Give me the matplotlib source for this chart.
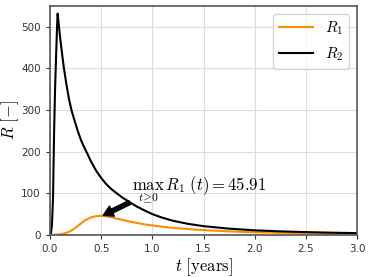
import matplotlib
matplotlib.use("Agg")
import matplotlib.pyplot as plt

plt.rcParams['mathtext.fontset'] = 'cm'

# Data
t_R2 = [0, 0.01, 0.02, 0.03, 0.04, 0.05, 0.06, 0.07, 0.075, 0.085, 0.1, 0.12,
        0.137, 0.16, 0.185, 0.21, 0.24, 0.27, 0.3, 0.33, 0.36, 0.4, 0.45, 0.5,
        0.55, 0.6, 0.7, 0.77, 0.85, 0.93, 1.0, 1.09, 1.2, 1.35, 1.5, 1.75,
        2.0, 2.25, 2.5, 2.75, 3.0]
R2 = [0, 5, 25, 90, 240, 350, 430, 505, 532, 508, 473, 432,
      400, 363, 328, 300, 275, 251, 230, 213, 198, 177, 155, 137,
      122, 110, 91, 80, 68, 58, 50, 42, 34, 26.5, 21, 15,
      11, 8.5, 6.7, 5.3, 4.3]

t_R1 = [0, 0.05, 0.1, 0.15, 0.2, 0.25, 0.3, 0.35, 0.4, 0.45, 0.5, 0.55, 0.6,
        0.65, 0.7, 0.8, 0.93, 1.05, 1.2, 1.35, 1.5, 1.75, 2.0, 2.5, 3.0]
R1 = [0, 0.3, 1.5, 4, 9, 17, 27, 36, 42, 45, 45.91, 44.8, 42.5,
      39.5, 36.5, 31, 25, 21, 17, 14, 11.5, 8.5, 6.3, 4, 3]

max_t, max_R1 = 0.5, 45.91
xticks = [0.0, 0.5, 1.0, 1.5, 2.0, 2.5, 3.0]
yticks = [0, 100, 200, 300, 400, 500]

fig = plt.figure(figsize=(3.7, 2.77), dpi=100)
ax = fig.add_axes([0.135, 0.152, 0.83, 0.826])

ax.plot(t_R1, R1, color='darkorange', lw=1.5, label=r'$R_1$')
ax.plot(t_R2, R2, color='black', lw=1.5, label=r'$R_2$')

ax.set_xlim(0, 3)
ax.set_ylim(0, 550)
ax.set_xticks(xticks)
ax.set_yticks(yticks)
ax.tick_params(labelsize=7.5, colors='#333333', length=3)
ax.grid(True, color='#dddddd', lw=0.8)
ax.set_axisbelow(True)
for s in ax.spines.values():
    s.set_color('#555555')
    s.set_linewidth(1.2)

ax.set_xlabel(r'$t\ \mathrm{[years]}$', fontsize=12, labelpad=2)
ax.set_ylabel(r'$R\ \mathrm{[-]}$', fontsize=12, labelpad=0)

ax.annotate('', xy=(max_t + 0.02, max_R1 + 1), xytext=(0.78, 78),
            arrowprops=dict(facecolor='black', edgecolor='black',
                            width=3, headwidth=8, headlength=7, shrink=0.0))
ax.text(0.8, 107, r'$\max_{t\geq 0}\, R_1\,(t) = %.2f$' % max_R1,
        fontsize=12, va='baseline', ha='left')

ax.legend(loc='upper right', fontsize=11, framealpha=0.8,
          handlelength=2.2)

fig.savefig('out.png', dpi=100)
